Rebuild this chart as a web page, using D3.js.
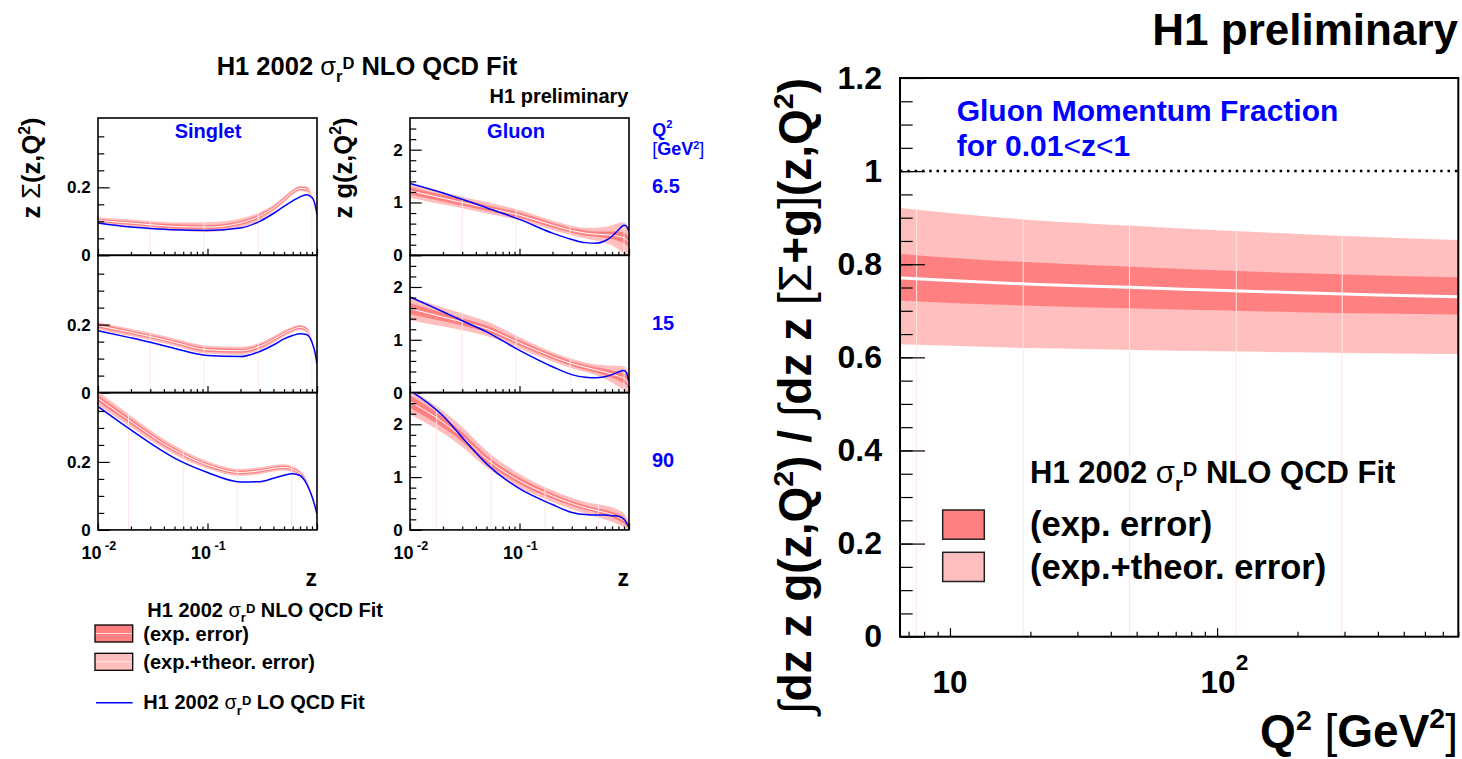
<!DOCTYPE html>
<html>
<head>
<meta charset="utf-8">
<script src="https://cdn.jsdelivr.net/npm/d3@7"></script>
<style>
  body { margin: 0; background: #fff; }
  svg { display: block; font-family: "Liberation Sans", Arial, Helvetica, sans-serif; font-weight: bold; }
  text { white-space: pre; }
</style>
</head>
<body>
<div id="chart"></div>
<script>
var svgWidth = 1462;
var svgHeight = 759;

// z grid shared by every density curve
var zNodes = [0.01, 0.02, 0.03, 0.05, 0.1, 0.2, 0.3, 0.4, 0.5, 0.6, 0.7, 0.8, 0.9, 0.95, 1.0];
var q2Values = ["6.5", "15", "90"];

// singlet z*Sigma(z,Q2), one row per Q2 value
var singletNlo = [
  [0.102, 0.095, 0.090, 0.085, 0.083, 0.095, 0.115, 0.139, 0.164, 0.186, 0.197, 0.195, 0.170, 0.145, 0.110],
  [0.197, 0.177, 0.165, 0.148, 0.126, 0.123, 0.136, 0.156, 0.174, 0.186, 0.192, 0.185, 0.150, 0.110, 0.070],
  [0.387, 0.319, 0.279, 0.235, 0.191, 0.169, 0.174, 0.181, 0.184, 0.178, 0.165, 0.142, 0.098, 0.069, 0.030]
];
var singletExp = [
  [0.005, 0.005, 0.005, 0.006, 0.006, 0.006, 0.006, 0.005, 0.005, 0.005, 0.005, 0.005, 0.005, 0.004, 0.004],
  [0.006, 0.005, 0.005, 0.005, 0.006, 0.006, 0.006, 0.005, 0.005, 0.005, 0.005, 0.005, 0.005, 0.004, 0.003],
  [0.010, 0.008, 0.007, 0.006, 0.005, 0.005, 0.005, 0.005, 0.005, 0.005, 0.005, 0.005, 0.004, 0.004, 0.003]
];
var singletTot = [
  [0.010, 0.010, 0.011, 0.012, 0.014, 0.013, 0.012, 0.010, 0.009, 0.008, 0.008, 0.008, 0.008, 0.007, 0.005],
  [0.011, 0.011, 0.011, 0.011, 0.012, 0.012, 0.011, 0.010, 0.009, 0.008, 0.008, 0.008, 0.008, 0.007, 0.005],
  [0.020, 0.017, 0.015, 0.013, 0.011, 0.010, 0.010, 0.009, 0.009, 0.009, 0.009, 0.008, 0.007, 0.006, 0.004]
];
var singletLo = [
  [0.095, 0.083, 0.079, 0.075, 0.073, 0.080, 0.100, 0.123, 0.144, 0.160, 0.172, 0.178, 0.170, 0.155, 0.120],
  [0.182, 0.161, 0.148, 0.130, 0.109, 0.106, 0.121, 0.140, 0.158, 0.168, 0.173, 0.171, 0.148, 0.124, 0.084],
  [0.363, 0.294, 0.255, 0.211, 0.169, 0.141, 0.142, 0.152, 0.161, 0.165, 0.160, 0.137, 0.098, 0.074, 0.047]
];

// gluon z*g(z,Q2)
var gluonNlo = [
  [1.22, 1.08, 1.00, 0.90, 0.76, 0.57, 0.47, 0.42, 0.40, 0.39, 0.38, 0.36, 0.33, 0.30, 0.24],
  [1.59, 1.43, 1.34, 1.21, 0.94, 0.68, 0.55, 0.48, 0.43, 0.39, 0.35, 0.31, 0.27, 0.23, 0.14],
  [2.43, 2.04, 1.76, 1.34, 0.93, 0.64, 0.50, 0.42, 0.37, 0.33, 0.29, 0.24, 0.18, 0.13, 0.06]
];
var gluonExp = [
  [0.07, 0.06, 0.06, 0.05, 0.05, 0.045, 0.045, 0.05, 0.05, 0.06, 0.07, 0.09, 0.10, 0.10, 0.09],
  [0.10, 0.08, 0.07, 0.06, 0.05, 0.045, 0.045, 0.045, 0.05, 0.06, 0.07, 0.08, 0.09, 0.09, 0.08],
  [0.12, 0.10, 0.09, 0.07, 0.06, 0.05, 0.045, 0.045, 0.045, 0.05, 0.05, 0.06, 0.06, 0.05, 0.04]
];
var gluonTot = [
  [0.13, 0.12, 0.11, 0.11, 0.10, 0.09, 0.09, 0.10, 0.12, 0.15, 0.19, 0.25, 0.30, 0.28, 0.22],
  [0.22, 0.18, 0.16, 0.14, 0.11, 0.09, 0.09, 0.09, 0.10, 0.13, 0.16, 0.20, 0.23, 0.22, 0.18],
  [0.24, 0.21, 0.19, 0.16, 0.13, 0.11, 0.11, 0.11, 0.12, 0.13, 0.14, 0.14, 0.13, 0.11, 0.08]
];
var gluonLo = [
  [1.36, 1.18, 1.06, 0.90, 0.68, 0.42, 0.30, 0.24, 0.23, 0.27, 0.36, 0.48, 0.57, 0.55, 0.44],
  [1.81, 1.53, 1.36, 1.15, 0.80, 0.49, 0.34, 0.29, 0.28, 0.30, 0.34, 0.39, 0.42, 0.37, 0.21],
  [2.64, 2.16, 1.75, 1.25, 0.78, 0.48, 0.33, 0.29, 0.28, 0.28, 0.27, 0.26, 0.20, 0.13, 0.05]
];

// bin seams showing through the bands
var singletSeams = [[0.03, 0.093, 0.29, 0.9], [0.03, 0.093, 0.29, 0.9], [0.019, 0.06, 0.187, 0.587]];
var gluonSeams = [[0.03, 0.093, 0.29, 0.9], [0.03, 0.093, 0.29, 0.9], [0.0175, 0.055, 0.171, 0.525]];

var zMajor = [0.01, 0.1, 1];
var zMinor = [0.02, 0.03, 0.04, 0.05, 0.06, 0.07, 0.08, 0.09, 0.2, 0.3, 0.4, 0.5, 0.6, 0.7, 0.8, 0.9];
var zLabels = [[0.01, "-2"], [0.1, "-1"]];
var singletMajor = [0, 0.2];
var singletMinor = [0.05, 0.1, 0.15, 0.25, 0.3, 0.35];
var gluonMajor = [0, 1, 2];
var gluonMinor = [0.2, 0.4, 0.6, 0.8, 1.2, 1.4, 1.6, 1.8, 2.2, 2.4];

// gluon momentum fraction vs Q2
var q2Nodes = [6.5, 10, 20, 50, 100, 200, 400, 800];
var fracNlo = [0.771, 0.765, 0.757, 0.750, 0.744, 0.739, 0.734, 0.730];
var fracExpHi = [0.822, 0.814, 0.804, 0.794, 0.787, 0.781, 0.776, 0.772];
var fracExpLo = [0.722, 0.717, 0.711, 0.705, 0.701, 0.697, 0.694, 0.692];
var fracTotHi = [0.921, 0.910, 0.895, 0.882, 0.873, 0.865, 0.858, 0.852];
var fracTotLo = [0.628, 0.625, 0.620, 0.616, 0.613, 0.611, 0.609, 0.607];
var fracSeams = [7.5, 18.8, 47, 118, 294];
var q2Major = [10, 100];
var q2Minor = [7, 8, 9, 20, 30, 40, 50, 60, 70, 80, 90, 200, 300, 400, 500, 600, 700, 800];
var fracMajor = [0, 0.2, 0.4, 0.6, 0.8, 1, 1.2];
var fracMinor = d3.range(0.05, 1.2, 0.05);

var expColor = "#ff8080";
var totColor = "#ffbfbf";
var loColor = "#0000ff";
var seamColor = "#ffe6e6";

var svg = d3.select("#chart").append("svg")
    .attr("width", svgWidth)
    .attr("height", svgHeight);

// text with sub/superscripts: parts = [text, shift, scale, weight]
function rich(parent, x, y, size, parts, anchor) {
    var t = parent.append("text")
        .attr("x", x)
        .attr("y", y)
        .attr("font-size", size)
        .attr("text-anchor", anchor || "start");
    var cur = 0;
    parts.forEach(function(p) {
        var shift = (p[1] || 0) * size;
        var ts = t.append("tspan")
            .attr("dy", shift - cur)
            .attr("font-size", (p[2] || 1) * size)
            .text(p[0]);
        if (p[3]) ts.attr("font-weight", p[3]);
        cur = shift;
    });
    return t;
}

function sigmaParts(after) {
    return [["σ", 0, 1, "normal"], ["r", 0.26, 0.65], ["D", -0.22, 0.65], [after, 0, 1]];
}

function styleAxis(g, size) {
    g.attr("font-size", null).attr("font-family", null);
    g.select(".domain").remove();
    g.selectAll(".tick line").attr("stroke", "#000").attr("stroke-width", 1.2);
    g.selectAll(".tick text").attr("font-size", size).attr("fill", "#000");
}

// ---------------- left: densities ----------------
var colLeft = [98, 410];
var panelW = 219;
var panelTop = 118;
var rowH = 137.3;

function drawDensity(col, row, yMax, major, minor, nlo, exp, tot, lo, seams) {
    var left = colLeft[col];
    var top = panelTop + row * rowH;
    var bottom = top + rowH;

    var x = d3.scaleLog().domain([0.01, 1]).range([left, left + panelW]);
    var y = d3.scaleLinear().domain([0, yMax]).range([bottom, top]);

    var clipId = "clip" + col + row;
    svg.append("clipPath").attr("id", clipId)
      .append("rect")
        .attr("x", left).attr("y", top)
        .attr("width", panelW).attr("height", rowH);

    var pts = zNodes.map(function(z, i) {
        return { z: z, c: nlo[i], e: exp[i], t: tot[i], lo: lo[i] };
    });

    function band(key) {
        return d3.area()
            .x(d => x(d.z))
            .y0(d => y(d.c - d[key]))
            .y1(d => y(d.c + d[key]))
            .curve(d3.curveMonotoneX);
    }

    var g = svg.append("g").attr("clip-path", `url(#${clipId})`);

    g.append("path").datum(pts).attr("d", band("t")).attr("fill", totColor);
    g.append("path").datum(pts).attr("d", band("e")).attr("fill", expColor);

    var upper = d3.scaleLog().domain(zNodes).range(zNodes.map((z, i) => nlo[i] + tot[i]));
    g.selectAll(".seam")
        .data(seams)
        .enter()
        .append("line")
        .attr("x1", d => x(d)).attr("x2", d => x(d))
        .attr("y1", bottom).attr("y2", d => y(upper(d)))
        .attr("stroke", seamColor)
        .attr("stroke-width", 1);

    g.append("path").datum(pts)
        .attr("d", d3.line().x(d => x(d.z)).y(d => y(d.c)).curve(d3.curveMonotoneX))
        .attr("fill", "none")
        .attr("stroke", "#fff")
        .attr("stroke-width", 1);

    g.append("path").datum(pts)
        .attr("d", d3.line().x(d => x(d.z)).y(d => y(d.lo)).curve(d3.curveMonotoneX))
        .attr("fill", "none")
        .attr("stroke", loColor)
        .attr("stroke-width", 1.5);

    // y ticks, pointing inwards
    var yMinorAxis = svg.append("g")
        .attr("transform", `translate(${left},0)`)
        .call(d3.axisLeft(y).tickValues(minor).tickSize(-6.3).tickFormat(""));
    styleAxis(yMinorAxis, 17);

    var yMajorAxis = svg.append("g")
        .attr("transform", `translate(${left},0)`)
        .call(d3.axisLeft(y).tickValues(major).tickSize(-11.7).tickPadding(7.3)
            .tickFormat(d => d === 0 ? "0" : (yMax < 1 ? d3.format(".1f")(d) : d3.format("d")(d))));
    styleAxis(yMajorAxis, 17);

    // x ticks along the bottom
    var xMinorAxis = svg.append("g")
        .attr("transform", `translate(0,${bottom})`)
        .call(d3.axisBottom(x).tickValues(zMinor).tickSize(-3.5).tickFormat(""));
    styleAxis(xMinorAxis, 17);

    var xMajorAxis = svg.append("g")
        .attr("transform", `translate(0,${bottom})`)
        .call(d3.axisBottom(x).tickValues(zMajor).tickSize(-6.5).tickFormat(""));
    styleAxis(xMajorAxis, 17);

    svg.append("rect")
        .attr("x", left).attr("y", top)
        .attr("width", panelW).attr("height", rowH)
        .attr("fill", "none")
        .attr("stroke", "#000")
        .attr("stroke-width", 1.6);

    if (row === 2) {
        zLabels.forEach(function(l) {
            rich(svg, x(l[0]) - 16.5, 559, 18, [["10", 0, 1], [" " + l[1], -0.5, 0.7]]);
        });
        svg.append("text")
            .attr("x", left + panelW)
            .attr("y", 586)
            .attr("font-size", 23)
            .attr("text-anchor", "end")
            .text("z");
    }
}

for (var r = 0; r < 3; r++) {
    drawDensity(0, r, 0.404, singletMajor, singletMinor,
        singletNlo[r], singletExp[r], singletTot[r], singletLo[r], singletSeams[r]);
    drawDensity(1, r, 2.6, gluonMajor, gluonMinor,
        gluonNlo[r], gluonExp[r], gluonTot[r], gluonLo[r], gluonSeams[r]);
}

// titles and labels, left part
rich(svg, 216.7, 75, 25.5, [["H1 2002 ", 0, 1]].concat(sigmaParts(" NLO QCD Fit")));

svg.append("text")
    .attr("x", 628.5).attr("y", 103)
    .attr("font-size", 20)
    .attr("text-anchor", "end")
    .text("H1 preliminary");

svg.append("text")
    .attr("x", 208).attr("y", 137.7)
    .attr("font-size", 20)
    .attr("text-anchor", "middle")
    .attr("fill", loColor)
    .text("Singlet");

svg.append("text")
    .attr("x", 516).attr("y", 137.7)
    .attr("font-size", 20)
    .attr("text-anchor", "middle")
    .attr("fill", loColor)
    .text("Gluon");

var singletLabel = svg.append("g").attr("transform", "translate(40,168) rotate(-90)");
rich(singletLabel, 0, 0, 25.5,
    [["z ", 0, 1], ["Σ", 0, 1, "normal"], ["(z,Q", 0, 1], ["2", -0.4, 0.62], [")", 0, 1]], "middle");

var gluonLabel = svg.append("g").attr("transform", "translate(351.5,168) rotate(-90)");
rich(gluonLabel, 0, 0, 25.5,
    [["z g(z,Q", 0, 1], ["2", -0.4, 0.62], [")", 0, 1]], "middle");

var q2Col = svg.append("g").attr("fill", loColor);
rich(q2Col, 652.3, 135.5, 18, [["Q", 0, 1], ["2", -0.4, 0.62]]);
rich(q2Col, 652.3, 155, 18, [["[", 0, 1, "normal"], ["GeV", 0, 1], ["2", -0.32, 0.6], ["]", 0, 1, "normal"]]);
q2Col.selectAll(".q2val")
    .data(q2Values)
    .enter()
    .append("text")
    .attr("x", 652)
    .attr("y", (d, i) => panelTop + i * rowH + 74.5)
    .attr("font-size", 20)
    .text(d => d);

// legend, left part
var legL = svg.append("g");
rich(legL, 147.3, 617, 20, [["H1 2002 ", 0, 1]].concat(sigmaParts(" NLO QCD Fit")));
[[625, expColor, "(exp. error)", 640.7], [653.3, totColor, "(exp.+theor. error)", 669]].forEach(function(e) {
    legL.append("rect")
        .attr("x", 95).attr("y", e[0])
        .attr("width", 37.7).attr("height", 17)
        .attr("fill", e[1])
        .attr("stroke", "#000")
        .attr("stroke-width", 1.3);
    legL.append("line")
        .attr("x1", 95.7).attr("x2", 132)
        .attr("y1", e[0] + 8.5).attr("y2", e[0] + 8.5)
        .attr("stroke", "#fff")
        .attr("stroke-opacity", 0.7)
        .attr("stroke-width", 1);
    legL.append("text")
        .attr("x", 143.3).attr("y", e[3])
        .attr("font-size", 20)
        .text(e[2]);
});
legL.append("line")
    .attr("x1", 96).attr("x2", 132.7)
    .attr("y1", 702.7).attr("y2", 702.7)
    .attr("stroke", loColor)
    .attr("stroke-width", 1.5);
rich(legL, 143.3, 709.3, 20, [["H1 2002 ", 0, 1]].concat(sigmaParts(" LO QCD Fit")));

// ---------------- right: momentum fraction ----------------
var fLeft = 900, fRight = 1458.3, fTop = 78, fBottom = 636.7;
var fx = d3.scaleLog().domain([6.5, 800]).range([fLeft, fRight]);
var fy = d3.scaleLinear().domain([0, 1.2]).range([fBottom, fTop]);

var fracPts = q2Nodes.map(function(q, i) {
    return { q: q, c: fracNlo[i], eh: fracExpHi[i], el: fracExpLo[i], th: fracTotHi[i], tl: fracTotLo[i] };
});

svg.append("clipPath").attr("id", "clipFrac")
  .append("rect")
    .attr("x", fLeft).attr("y", fTop)
    .attr("width", fRight - fLeft).attr("height", fBottom - fTop);

var fg = svg.append("g").attr("clip-path", "url(#clipFrac)");

fg.append("path").datum(fracPts)
    .attr("d", d3.area().x(d => fx(d.q)).y0(d => fy(d.tl)).y1(d => fy(d.th)).curve(d3.curveMonotoneX))
    .attr("fill", totColor);
fg.append("path").datum(fracPts)
    .attr("d", d3.area().x(d => fx(d.q)).y0(d => fy(d.el)).y1(d => fy(d.eh)).curve(d3.curveMonotoneX))
    .attr("fill", expColor);

var fracUpper = d3.scaleLog().domain(q2Nodes).range(fracTotHi);
fg.selectAll(".seam")
    .data(fracSeams)
    .enter()
    .append("line")
    .attr("x1", d => fx(d)).attr("x2", d => fx(d))
    .attr("y1", fBottom).attr("y2", d => fy(fracUpper(d)))
    .attr("stroke", seamColor)
    .attr("stroke-width", 1);

fg.append("path").datum(fracPts)
    .attr("d", d3.line().x(d => fx(d.q)).y(d => fy(d.c)).curve(d3.curveMonotoneX))
    .attr("fill", "none")
    .attr("stroke", "#fff")
    .attr("stroke-width", 3);

fg.append("line")
    .attr("x1", fLeft).attr("x2", fRight)
    .attr("y1", fy(1)).attr("y2", fy(1))
    .attr("stroke", "#000")
    .attr("stroke-width", 2.5)
    .attr("stroke-dasharray", "2.5,4.8");

var fyMinor = svg.append("g")
    .attr("transform", `translate(${fLeft},0)`)
    .call(d3.axisLeft(fy).tickValues(fracMinor).tickSize(-12.7).tickFormat(""));
styleAxis(fyMinor, 32);
var fyMajor = svg.append("g")
    .attr("transform", `translate(${fLeft},0)`)
    .call(d3.axisLeft(fy).tickValues(fracMajor).tickSize(-25).tickPadding(18)
        .tickFormat(d => d === 0 || d === 1 ? d3.format("d")(d) : d3.format(".1f")(d)));
styleAxis(fyMajor, 32);

var fxMinor = svg.append("g")
    .attr("transform", `translate(0,${fBottom})`)
    .call(d3.axisBottom(fx).tickValues(q2Minor).tickSize(-5).tickFormat(""));
styleAxis(fxMinor, 32);
var fxMajor = svg.append("g")
    .attr("transform", `translate(0,${fBottom})`)
    .call(d3.axisBottom(fx).tickValues(q2Major).tickSize(-8.5).tickFormat(""));
styleAxis(fxMajor, 32);

svg.append("rect")
    .attr("x", fLeft).attr("y", fTop)
    .attr("width", fRight - fLeft).attr("height", fBottom - fTop)
    .attr("fill", "none")
    .attr("stroke", "#000")
    .attr("stroke-width", 2);

svg.append("text")
    .attr("x", fx(10)).attr("y", 693)
    .attr("font-size", 31.5)
    .attr("text-anchor", "middle")
    .text("10");
rich(svg, fx(100) - 16.5, 693, 31.5, [["10", 0, 1], ["2", -0.74, 0.72]]);

rich(svg, 1458, 747, 46,
    [["Q", 0, 1], ["2", -0.38, 0.62], [" ", 0, 1], ["[", 0, 1, "normal"], ["GeV", 0, 1],
     ["2", -0.42, 0.62], ["]", 0, 1, "normal"]], "end");

var fracLabel = svg.append("g").attr("transform", "translate(811,396) rotate(-90)");
rich(fracLabel, 0, 0, 46,
    [["∫", 0, 1, "normal"], ["dz z g(z,Q", 0, 1], ["2", -0.4, 0.62], [") / ", 0, 1],
     ["∫", 0, 1, "normal"], ["dz z ", 0, 1], ["[", 0, 1, "normal"], ["Σ", 0, 1, "normal"],
     ["+g", 0, 1], ["]", 0, 1, "normal"], ["(z,Q", 0, 1], ["2", -0.4, 0.62], [")", 0, 1]], "middle");

svg.append("text")
    .attr("x", 1458).attr("y", 45)
    .attr("font-size", 44)
    .attr("text-anchor", "end")
    .text("H1 preliminary");

var fracTitle = svg.append("g").attr("fill", loColor);
fracTitle.append("text")
    .attr("x", 956.7).attr("y", 120.7)
    .attr("font-size", 30)
    .text("Gluon Momentum Fraction");
rich(fracTitle, 956.7, 155.5, 30,
    [["for 0.01", 0, 1], ["<", 0, 1, "normal"], ["z", 0, 1], ["<", 0, 1, "normal"], ["1", 0, 1]]);

// legend, right part
var legR = svg.append("g");
rich(legR, 1030, 483.3, 31, [["H1 2002 ", 0, 1]].concat(sigmaParts(" NLO QCD Fit")));
[[510, expColor, "(exp. error)", 536], [552.3, totColor, "(exp.+theor. error)", 578.5]].forEach(function(e) {
    legR.append("rect")
        .attr("x", 942.7).attr("y", e[0])
        .attr("width", 41.6).attr("height", 29.2)
        .attr("fill", e[1])
        .attr("stroke", "#222")
        .attr("stroke-width", 1.5);
    legR.append("text")
        .attr("x", 1030).attr("y", e[3])
        .attr("font-size", 34.5)
        .text(e[2]);
});
</script>
</body>
</html>
